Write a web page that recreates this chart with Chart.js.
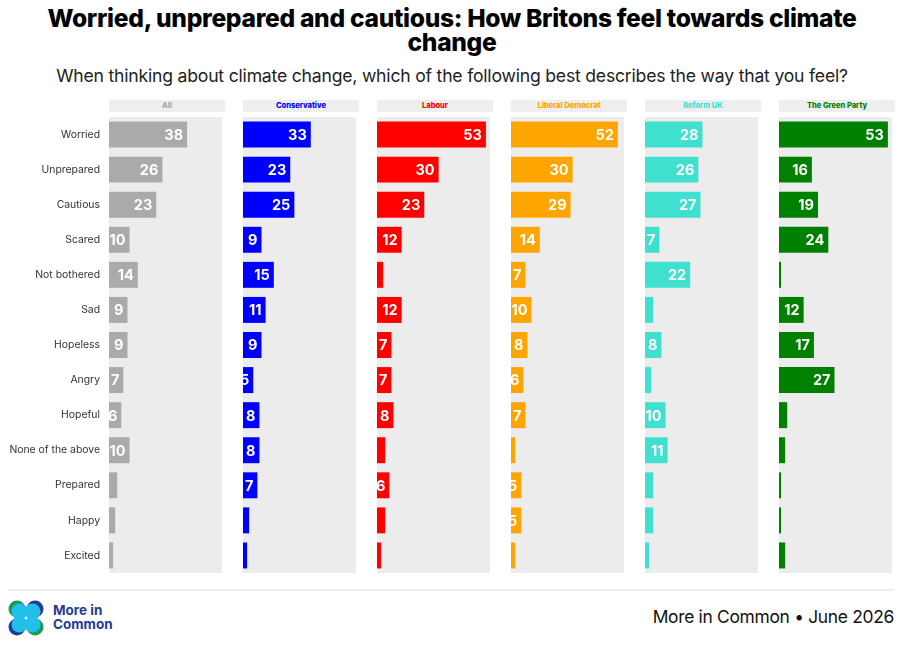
<!DOCTYPE html>
<html>
<head>
<meta charset="utf-8">
<script src="https://cdn.jsdelivr.net/npm/chart.js@4.4.1/dist/chart.umd.min.js"></script>
<style>
  body { margin: 0; background: #fff; font-family: Inter, "Noto Sans", sans-serif; }
  #page { position: relative; width: 904px; height: 650px; overflow: hidden; }
  .title { position: absolute; left: 0; width: 904px; top: 6px; text-align: center;
           font-size: 24.6px; font-weight: 800; line-height: 24px; color: #000; letter-spacing: -0.3px; }
  .subtitle { position: absolute; left: 0; width: 904px; top: 65px; text-align: center;
              font-size: 17.6px; color: #222; letter-spacing: -0.2px; }
  .head { position: absolute; top: 100px; height: 12px; width: 116px; background: #eeeeee;
          font-size: 7.5px; font-weight: 800; text-align: center; line-height: 12px; }
  canvas { position: absolute; top: 117px; }
  .rule { position: absolute; left: 8px; width: 886px; top: 589px; height: 2px; background: #eeeeee; }
  .brand { position: absolute; left: 53px; top: 603px; font-size: 13.5px; font-weight: 700;
           color: #1f3c96; line-height: 14px; }
  .source { position: absolute; right: 10px; top: 606px; font-size: 17.4px; color: #111; letter-spacing: -0.3px; }
</style>
</head>
<body>
<div id="page">
  <div class="title">Worried, unprepared and cautious: How Britons feel towards climate<br>change</div>
  <div class="subtitle">When thinking about climate change, which of the following best describes the way that you feel?</div>
  <div id="heads"></div>
  <div id="charts"></div>
  <div class="rule"></div>
  <svg style="position:absolute;left:8px;top:600px" width="36" height="36" viewBox="0 0 36 36">
    <circle cx="9" cy="9" r="8.5" fill="#1b9b4b"/>
    <circle cx="27" cy="9" r="8.5" fill="#1f3c96"/>
    <circle cx="9" cy="27" r="8.5" fill="#1f3c96"/>
    <circle cx="27" cy="27" r="8.5" fill="#1b9b4b"/>
    <circle cx="11.5" cy="11.5" r="8" fill="#22bfea"/>
    <circle cx="24.5" cy="11.5" r="8" fill="#22bfea"/>
    <circle cx="11.5" cy="24.5" r="8" fill="#22bfea"/>
    <circle cx="24.5" cy="24.5" r="8" fill="#22bfea"/>
  </svg>
  <div class="brand">More in<br>Common</div>
  <div class="source">More in Common • June 2026</div>
</div>
<script>
const categories = ["Worried", "Unprepared", "Cautious", "Scared", "Not bothered", "Sad", "Hopeless",
  "Angry", "Hopeful", "None of the above", "Prepared", "Happy", "Excited"];

const groups = ["All", "Conservative", "Labour", "Liberal Democrat", "Reform UK", "The Green Party"];
const colours = ["#aaaaaa", "#0000ff", "#ff0000", "#ffa500", "#40e0d0", "#008000"];

const all          = [38, 26, 23, 10, 14, 9, 9, 7, 6, 10, 4, 3, 2];
const conservative = [33, 23, 25, 9, 15, 11, 9, 5, 8, 8, 7, 3, 2];
const labour       = [53, 30, 23, 12, 3, 12, 7, 7, 8, 4, 6, 4, 2];
const libDem       = [52, 30, 29, 14, 7, 10, 8, 6, 7, 2, 5, 5, 2];
const reform       = [28, 26, 27, 7, 22, 4, 8, 3, 10, 11, 4, 4, 2];
const green        = [53, 16, 19, 24, 1, 12, 17, 27, 4, 3, 1, 1, 3];

const series = [all, conservative, labour, libDem, reform, green];

const panelBg = {
  id: 'panelBg',
  beforeDraw(chart) {
    const { ctx, chartArea: a } = chart;
    ctx.save();
    ctx.fillStyle = '#ececec';
    ctx.fillRect(a.left, a.top, a.right - a.left, a.bottom - a.top);
    ctx.restore();
  }
};

const barLabels = {
  id: 'barLabels',
  afterDatasetsDraw(chart) {
    const { ctx, chartArea: a } = chart;
    const data = chart.data.datasets[0].data;
    ctx.save();
    ctx.beginPath();
    ctx.rect(a.left, a.top, a.right - a.left, a.bottom - a.top);
    ctx.clip();
    ctx.fillStyle = '#fff';
    ctx.font = 'bold 14.5px Inter, "Noto Sans", sans-serif';
    ctx.textAlign = 'right';
    ctx.textBaseline = 'middle';
    chart.getDatasetMeta(0).data.forEach((bar, i) => {
      if (data[i] >= 5) ctx.fillText(data[i], bar.x - 4, bar.y + 1);
    });
    ctx.restore();
  }
};

const heads = document.getElementById('heads');
const holder = document.getElementById('charts');

series.forEach((values, i) => {
  const left = 109 + i * 134;
  const h = document.createElement('div');
  h.className = 'head';
  h.style.left = left + 'px';
  h.style.color = colours[i];
  h.textContent = groups[i];
  heads.appendChild(h);

  // only the first panel carries the category labels
  const first = i === 0;
  const canvas = document.createElement('canvas');
  const w = first ? 222 : 113;
  canvas.width = w;
  canvas.height = 456;
  canvas.style.left = (first ? 0 : left) + 'px';
  canvas.style.width = w + 'px';
  canvas.style.height = '456px';
  holder.appendChild(canvas);

  const yAxis = {
    display: first,
    grid: { display: false },
    border: { display: false },
    ticks: { color: '#333', font: { size: 10.4, family: 'Inter, "Noto Sans", sans-serif' }, padding: 1 },
  };
  if (first) {
    yAxis.afterFit = (scale) => {
      scale.width = 109;
      scale.paddingTop = 0;
      scale.paddingBottom = 0;
    };
  }

  new Chart(canvas.getContext('2d'), {
    type: 'bar',
    data: {
      labels: categories,
      datasets: [{
        data: values,
        backgroundColor: colours[i],
        categoryPercentage: 0.74,
        barPercentage: 1,
      }]
    },
    options: {
      indexAxis: 'y',
      responsive: false,
      animation: false,
      layout: { padding: 0 },
      plugins: { legend: { display: false }, tooltip: { enabled: false } },
      scales: {
        x: { display: false, min: 0, max: 55 },
        y: yAxis
      }
    },
    plugins: [panelBg, barLabels]
  });
});
</script>
</body>
</html>
